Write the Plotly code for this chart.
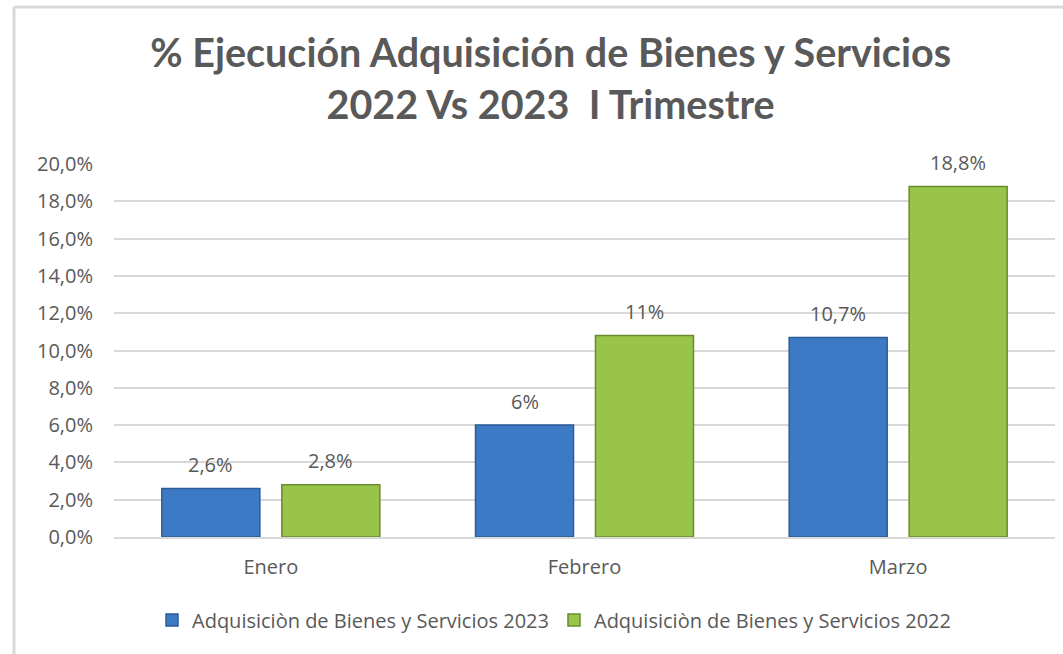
import plotly.graph_objects as go

meses = ["Enero", "Febrero", "Marzo"]
valores_2023 = [2.6, 6.0, 10.7]
valores_2022 = [2.8, 10.8, 18.8]
etiquetas_2023 = ["2,6%", "6%", "10,7%"]
etiquetas_2022 = ["2,8%", "11%", "18,8%"]
serie_2023 = "Adquisiciòn de Bienes y Servicios 2023"
serie_2022 = "Adquisiciòn de Bienes y Servicios 2022"
titulo = "% Ejecución Adquisición de Bienes y Servicios<br>2022 Vs 2023  I Trimestre"

gray = "#595959"
fsz = 20
fig = go.Figure()
fig.add_trace(go.Bar(
    x=meses, y=valores_2023, name=serie_2023,
    marker=dict(color="#3c7ac5", line=dict(color="#2c5c96", width=1.5)),
))
fig.add_trace(go.Bar(
    x=meses, y=valores_2022, name=serie_2022,
    marker=dict(color="#98c449", line=dict(color="#6a8a2e", width=1.5)),
))

# data labels above bars (offset half a bar slot left/right of category centre)
annotations = []
for serie_vals, serie_txt, dx in ((valores_2023, etiquetas_2023, -60),
                                   (valores_2022, etiquetas_2022, 60)):
    for m, v, t in zip(meses, serie_vals, serie_txt):
        annotations.append(dict(x=m, y=v, text=t, showarrow=False,
                                xshift=dx, yshift=24, yanchor="middle",
                                font=dict(size=fsz, color=gray, family="Open Sans")))

W = 941.0
H = 373.0
fig.update_layout(
    width=1063, height=654,
    margin=dict(l=114, r=8, t=164, b=117, pad=0),
    paper_bgcolor="white", plot_bgcolor="white",
    separators=",.",
    barmode="group", bargap=0.235, bargroupgap=0.183,
    title=dict(text=titulo, x=0.518, xanchor="center",
               y=0.897, yanchor="top",
               font=dict(family="Lato", size=39.5, color=gray, weight="bold")),
    font=dict(family="Open Sans", color=gray, size=fsz),
    xaxis=dict(showline=True, linecolor="#d9d9d9", linewidth=2, ticks="",
               tickfont=dict(size=fsz, color=gray), ticklabelstandoff=11),
    yaxis=dict(range=[0, 20], dtick=2, tickformat=".1f", ticksuffix="%",
               showgrid=True, gridcolor="#d9d9d9", gridwidth=2, zeroline=False,
               tickfont=dict(size=fsz, color=gray), ticklabelstandoff=20),
    legend=dict(orientation="h", x=(554 - 114) / W, xanchor="center",
                y=-(620 - 537) / H, yanchor="middle",
                font=dict(size=fsz, color=gray), itemwidth=30,
                traceorder="normal"),
    annotations=annotations,
    shapes=[
        dict(type="line", xref="paper", yref="paper",
             x0=-100 / W, x1=1.1, y0=1 + (164 - 7) / H, y1=1 + (164 - 7) / H,
             line=dict(color="#d9d9d9", width=3)),
        dict(type="line", xref="paper", yref="paper",
             x0=-100 / W, x1=-100 / W, y0=-0.4, y1=1 + (164 - 7) / H,
             line=dict(color="#d9d9d9", width=3)),
    ],
)
fig.write_html("out.html")
